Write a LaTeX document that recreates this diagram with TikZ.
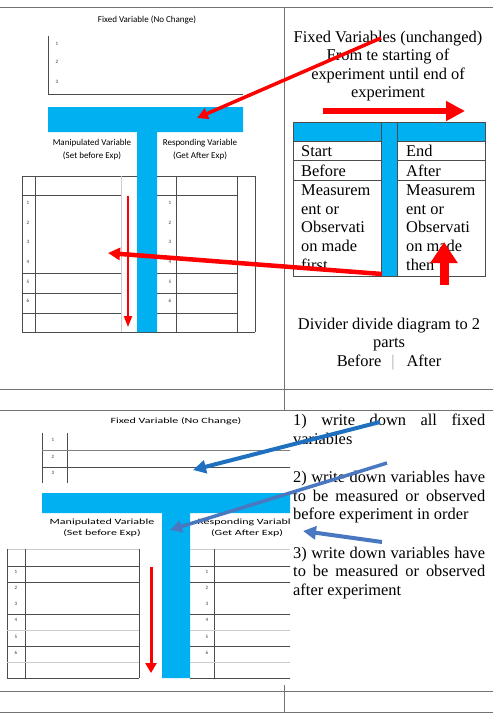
\documentclass[tikz,border=0pt]{standalone}
\usepackage{fontspec}
\setmainfont{Liberation Serif}
\newfontfamily\calfont{Carlito}
\usetikzlibrary{arrows.meta}
\definecolor{tblue}{RGB}{0,176,240}
\definecolor{darkarr}{RGB}{31,112,190}
\definecolor{lightarr}{RGB}{74,120,192}
\newcommand\wide[1]{\scalebox{1.5}[1]{#1}}
\tikzset{
  frame/.style={black!55,line width=1pt},
  grid/.style={black!70,line width=0.6pt},
  faint/.style={black!20,line width=0.6pt},
  lbl/.style={font=\calfont\fontsize{9}{13}\selectfont,align=center,inner sep=0},
  lblsmall/.style={font=\calfont\fontsize{8}{10.6}\selectfont,align=center,inner sep=0},
  num/.style={font=\calfont\fontsize{5}{6}\selectfont,black!80,inner sep=0},
  txt/.style={font=\fontsize{16.4}{18.6}\selectfont,inner sep=0},
  arr/.style n args={3}{line width=#1,-{Triangle[length=#2,width=#3]}},
}
\begin{document}
\begin{tikzpicture}[x=1pt,y=-1pt]
\useasboundingbox (0,0) rectangle (493,715);
\draw[frame] (0,7) -- (493,7) (0,389) -- (493,389) (0,410) -- (493,410)
  (0,691) -- (493,691) (0,712) -- (493,712);
\draw[frame] (284,7) -- (284,410) (284,685) -- (284,712);

% upper diagram
\node[lbl] (fixA) at (147,20) {Fixed Variable (No Change)};
\draw[grid] (48,36) -- (48,94) -- (243,94);
\foreach \i/\y in {1/44,2/62,3/82} \node[num] at (57,\y) {\i};
\draw[grid] (22,176) -- (255,176) (22,332) -- (255,332);
\draw[grid] (22,176) -- (22,332) (35,176) -- (35,332) (176,176) -- (176,332)
  (237,176) -- (237,332) (255,176) -- (255,332);
\draw[faint] (121,176) -- (121,332);
\foreach \y in {195,273,293,313} \draw[grid] (22,\y) -- (121,\y) (157,\y) -- (237,\y);
\foreach \i in {1,...,6} {
  \node[num] at (28,{183.5+19.6*\i}) {\i};
  \node[num] at (170,{183.5+19.6*\i}) {\i};
}
\fill[tblue] (48,107) rectangle (243,132) (137,132) rectangle (157,332);
\node[lbl] (manA) at (92,150) {Manipulated Variable\\(Set before Exp)};
\node[lbl] (resA) at (200,150) {Responding Variable\\(Get After Exp)};

% upper text (base = last line)
\node[txt,align=center,anchor=base] (fixB) at (388,97.8)
  {Fixed Variables (unchanged)\\From te starting of\\experiment until end of\\experiment};
\fill[tblue] (293,122) rectangle (485,141) (381,141) rectangle (397,276);
\draw[grid] (293,122) rectangle (485,276) (381,122) -- (381,276) (397,122) -- (397,276);
\foreach \y in {141,160,180} \draw[grid] (293,\y) -- (381,\y) (397,\y) -- (485,\y);
\node[txt,anchor=base west] (start) at (301,156.7) {Start};
\node[txt,anchor=base west] (stop) at (406,156.7) {End};
\node[txt,anchor=base west] (before) at (301,176.7) {Before};
\node[txt,anchor=base west] (after) at (406,176.7) {After};
\node[txt,align=left,anchor=base west] (measA) at (301,270.1)
  {Measurem\\ent or\\Observati\\on made\\first};
\node[txt,align=left,anchor=base west] (measB) at (406,270.1)
  {Measurem\\ent or\\Observati\\on made\\then};
\node[txt,align=center,anchor=base] (divider) at (389,366.4)
  {Divider divide diagram to 2\\parts\\Before\hspace{10pt}{\color{black!35}|}\hspace{12pt}After};

% lower diagram
\begin{scope}
\clip (0,410) rectangle (290,691);
\node[lblsmall] (fixC) at (176,421) {\wide{Fixed Variable (No Change)}};
\draw[grid] (42,433) -- (42,483) (67,433) -- (67,483);
\draw[black!50,line width=0.6pt] (42,450) -- (292,450);
\draw[grid] (42,467) -- (292,467);
\foreach \i/\y in {1/440,2/457,3/473} \node[num] at (53,\y) {\i};
\draw[faint] (7,549) -- (139,549) (190,549) -- (292,549);
\draw[grid] (7,549) -- (7,678) (25,549) -- (25,678) (139,549) -- (139,678) (214,549) -- (214,678);
\foreach \y in {566,582,614,646,678} \draw[grid] (7,\y) -- (139,\y) (190,\y) -- (292,\y);
\foreach \y in {630,662} \draw[faint] (7,\y) -- (139,\y) (190,\y) -- (292,\y);
\foreach \i/\y in {1/572,2/588,3/604,4/620,5/637,6/653} {
  \node[num] at (16,\y) {\i};
  \node[num] at (207,\y) {\i};
}
\fill[tblue] (42,493) rectangle (292,513) (162,513) rectangle (190,678);
\node[lblsmall] (manC) at (102,528) {\wide{Manipulated Variable}\\\wide{(Set before Exp)}};
\node[lblsmall] (resC) at (247,528) {\wide{Responding Variable}\\\wide{(Get After Exp)}};
\end{scope}

% lower text
\begin{scope}[every node/.style={txt,text width=192pt,align=justify,anchor=base west}]
\node (stepone) at (293,425.7) {\hyphenpenalty=10000 1)~write down all fixed\linebreak variables};
\node (steptwo) at (293,482.7) {\hyphenpenalty=10000 2)~write down variables have\linebreak to be measured or observed\linebreak before experiment in order};
\node (stepthree) at (293,558.3) {\hyphenpenalty=10000 3)~write down variables have\linebreak to be measured or observed\linebreak after experiment};
\end{scope}

% arrows
\coordinate (r1s) at (381,38);   \coordinate (r1e) at (197,118);
\coordinate (r2s) at (323,111);  \coordinate (r2e) at (465,111);
\coordinate (r3s) at (382,274);  \coordinate (r3e) at (108,253);
\coordinate (r4s) at (128,196);  \coordinate (r4e) at (128,327);
\coordinate (r5s) at (444,285);  \coordinate (r5e) at (444,242);
\coordinate (r6s) at (151,567);  \coordinate (r6e) at (151,673);
\coordinate (b1s) at (380,422);  \coordinate (b1e) at (193,470);
\coordinate (b2s) at (387,463);  \coordinate (b2e) at (170,530);
\coordinate (b3s) at (382,542);  \coordinate (b3e) at (303,531);
\draw[red,arr={3.5pt}{11pt}{11pt}] (r1s) -- (r1e);
\draw[red,arr={6pt}{19pt}{19pt}] (r2s) -- (r2e);
\draw[red,arr={4.5pt}{12pt}{12pt}] (r3s) -- (r3e);
\draw[red,arr={2pt}{11pt}{8pt}] (r4s) -- (r4e);
\draw[red,arr={9pt}{21pt}{26pt}] (r5s) -- (r5e);
\draw[red,arr={3pt}{10pt}{11pt}] (r6s) -- (r6e);
\draw[darkarr,arr={4pt}{13pt}{13pt}] (b1s) -- (b1e);
\draw[lightarr,arr={3.5pt}{12pt}{12pt}] (b2s) -- (b2e);
\draw[lightarr,arr={4pt}{13pt}{13pt}] (b3s) -- (b3e);
\end{tikzpicture}
\end{document}
